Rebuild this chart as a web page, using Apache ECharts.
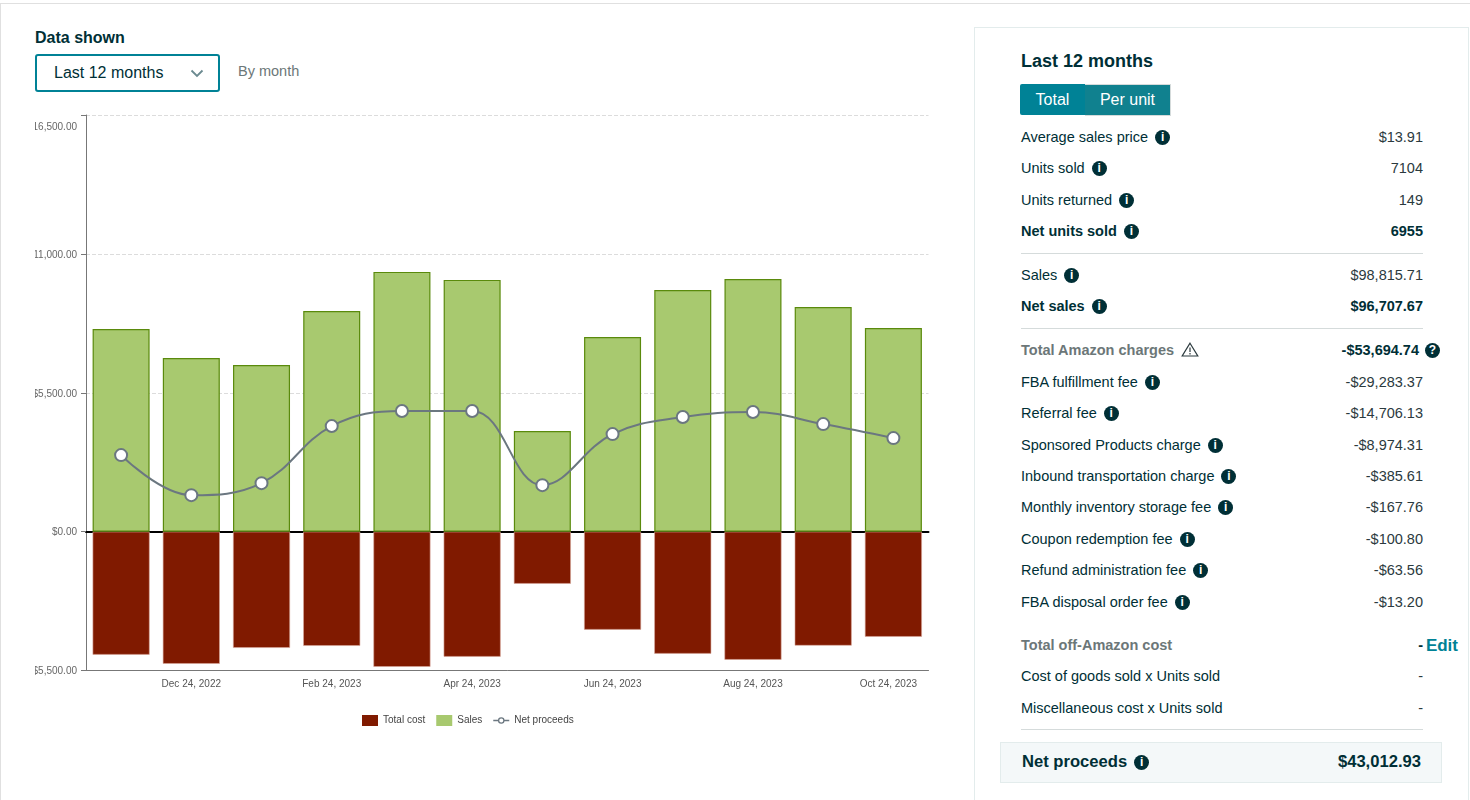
<!DOCTYPE html>
<html><head><meta charset="utf-8">
<script src="https://cdn.jsdelivr.net/npm/echarts@6/dist/echarts.min.js"></script>
<style>
html,body{margin:0;padding:0;background:#fff;width:1470px;height:800px;overflow:hidden;font-family:"Liberation Sans",Arial,sans-serif;color:#002f36}
.abs{position:absolute}
#topline{left:0;top:3px;width:1470px;height:1px;background:#e0e0e0}
#leftline{left:0;top:3px;width:1px;height:797px;background:#e0e0e0}
#ds{left:35px;top:28px;font-size:16px;font-weight:700;line-height:19px}
#dd{left:35px;top:54px;width:181px;height:34px;border:2px solid #008296;border-radius:3px;font-size:16px;line-height:33px;text-indent:17px;color:#002f36}
#bm{left:238px;top:63px;font-size:14.5px;line-height:16px;color:#6c7778}
#chart{left:35px;top:100px;width:900px;height:640px}
#panel{left:974px;top:27px;width:495px;height:773px;border:1px solid #e3ecec;border-bottom:none;box-sizing:border-box}
#title{left:1021px;top:51px;font-size:18px;font-weight:700;line-height:21px}
#b1{left:1020px;top:84px;width:65px;height:31px;background:#008296;border-radius:2px 0 0 2px;color:#fff;font-size:16px;line-height:31px;text-align:center}
#b2{left:1085px;top:84px;width:85px;height:30px;background:#10818f;border:1px solid #d5dbdb;border-left:none;color:#fff;font-size:16px;line-height:30px;text-align:center}
#rows{left:1021px;top:121.9px;width:402px}
.row{height:31.4px;line-height:31.4px;font-size:14.5px;display:flex;justify-content:space-between;white-space:nowrap;position:relative}
.row .v{color:#2b3a3e}
.b,.b .v{font-weight:700;color:#002f36}
.g .l{color:#6c7778;font-weight:700}
.g .v{color:#002f36;font-weight:700}
.g.amz .v{margin-right:4px}
.i{display:inline-block;width:15px;height:15px;border-radius:50%;background:#002f36;color:#fff;font-size:12px;line-height:15px;text-align:center;font-weight:700;margin-left:7px;vertical-align:1px}
.q{position:absolute;right:-17px;top:8px;margin:0}
.hr{height:1px;background:#d5dbdb;margin:6px 0 5.4px}
.hr.h2{margin:5.4px 0 6.4px}
.hr.h3{margin:5px 0 0}
.edit{position:absolute;right:-35px;top:0;color:#008296;font-size:17px;font-weight:700}
#net{left:1000px;top:742px;width:442px;height:41px;box-sizing:border-box;background:#f4f8f9;border:1px solid #e3ecec;display:flex;justify-content:space-between;padding:0 20px 0 21px;line-height:38px;font-size:16.6px;font-weight:700;color:#002f36}
</style></head><body>
<div id="topline" class="abs"></div><div id="leftline" class="abs"></div>
<div id="ds" class="abs">Data shown</div>
<div id="dd" class="abs">Last 12 months<svg class="abs" style="left:153px;top:13px" width="14" height="9" viewBox="0 0 14 9"><path d="M1.5 1.5 L7 7 L12.5 1.5" fill="none" stroke="#6b8a90" stroke-width="1.8"/></svg></div>
<div id="bm" class="abs">By month</div>
<div id="chart" class="abs"></div>
<div id="panel" class="abs"></div>
<div id="title" class="abs">Last 12 months</div>
<div id="b1" class="abs">Total</div><div id="b2" class="abs">Per unit</div>
<div id="rows" class="abs"></div>
<div id="net" class="abs"><span>Net proceeds<span class="i">i</span></span><span>$43,012.93</span></div>
<script>
var categories=["Nov 24, 2022","Dec 24, 2022","Jan 24, 2023","Feb 24, 2023","Mar 24, 2023","Apr 24, 2023","May 24, 2023","Jun 24, 2023","Jul 24, 2023","Aug 24, 2023","Sep 24, 2023","Oct 24, 2023"];
var sales=[8027,6878,6600,8741,10287,9970,3984,7710,9573,10009,8899,8067];
var totalCost=[-4870,-5230,-4600,-4520,-5350,-4950,-2060,-3880,-4830,-5070,-4510,-4160];
var netProceeds=[3033,1447,1923,4182,4777,4777,1843,3865,4539,4737,4261,3706];
var group1=[["Average sales price","$13.91",1],["Units sold","7104",1],["Units returned","149",1],["Net units sold","6955",1,"b"]];
var group2=[["Sales","$98,815.71",1],["Net sales","$96,707.67",1,"b"]];
var group3=[["FBA fulfillment fee","-$29,283.37",1],["Referral fee","-$14,706.13",1],["Sponsored Products charge","-$8,974.31",1],["Inbound transportation charge","-$385.61",1],["Monthly inventory storage fee","-$167.76",1],["Coupon redemption fee","-$100.80",1],["Refund administration fee","-$63.56",1],["FBA disposal order fee","-$13.20",1]];
var group4=[["Cost of goods sold x Units sold","-",0],["Miscellaneous cost x Units sold","-",0]];

function rowHtml(r){return '<div class="row '+(r[3]||'')+'"><span class="l">'+r[0]+(r[2]?'<span class="i">i</span>':'')+'</span><span class="v">'+r[1]+'</span></div>';}
var warn='<svg style="margin-left:7px;vertical-align:-2px" width="18" height="15" viewBox="0 0 18 15"><path d="M9 1.2 L16.8 14 L1.2 14 Z" fill="none" stroke="#2b3a3e" stroke-width="1.2"/><path d="M9 5.5 V10 M9 11 V12.5" stroke="#2b3a3e" stroke-width="1.2"/></svg>';
document.getElementById('rows').innerHTML=
 group1.map(rowHtml).join('')+'<div class="hr"></div>'+
 group2.map(rowHtml).join('')+'<div class="hr h2"></div>'+
 '<div class="row g amz"><span class="l">Total Amazon charges'+warn+'</span><span class="v">-$53,694.74</span><span class="i q">?</span></div>'+
 group3.map(rowHtml).join('')+
 '<div style="height:12px"></div>'+
 '<div class="row g"><span class="l">Total off-Amazon cost</span><span class="v">-</span><span class="edit">Edit</span></div>'+
 group4.map(rowHtml).join('')+'<div class="hr h3"></div>';

var font='"Liberation Sans",Arial,sans-serif';
var chart=echarts.init(document.getElementById('chart'),null,{renderer:'canvas'});
function everyOther(i){return i%2===1;}
var legendLineIcon='path://M0 2.6H4.8V4H0Z M11.2 2.6H16V4H11.2Z M8 0a3.3 3.3 0 1 1 -0.01 0Z M8 1.3a2 2 0 1 0 0.01 0Z';
chart.setOption({
 animation:false,
 textStyle:{fontFamily:font},
 grid:{left:51,top:15,width:842.5,height:555.6,containLabel:false,outerBoundsMode:'none'},
 legend:{left:322,top:610,itemWidth:16,itemHeight:11,itemGap:11,
  textStyle:{fontSize:10,color:'#444',fontFamily:font},
  data:[
   {name:'Total cost',icon:'rect',itemStyle:{borderWidth:0}},
   {name:'Sales',icon:'rect',itemStyle:{borderWidth:0}},
   {name:'Net proceeds',icon:legendLineIcon,itemStyle:{color:'#6b7780',borderWidth:0}}]},
 xAxis:[
  {type:'category',data:categories,position:'bottom',
   axisLine:{onZero:false,lineStyle:{color:'#777',width:1}},
   axisTick:{alignWithLabel:true,interval:everyOther,length:5,lineStyle:{color:'#777'}},
   axisLabel:{interval:everyOther,fontSize:10,color:'#555',margin:9,fontFamily:font,hideOverlap:false,
     formatter:function(v,i){return i===categories.length-1?'{last|'+v+'}':v;},
     rich:{last:{fontSize:10,color:'#555',fontFamily:font,padding:[0,10,0,0]}}},
   splitLine:{show:false}},
  {type:'category',data:categories,position:'bottom',
   axisLine:{onZero:true,lineStyle:{color:'#000',width:2}},
   axisTick:{show:false},axisLabel:{show:false},splitLine:{show:false}}
 ],
 yAxis:{type:'value',min:-5500,max:16500,interval:5500,
  axisLine:{show:true,lineStyle:{color:'#777',width:1}},
  axisTick:{show:true,length:5,lineStyle:{color:'#777'}},
  axisLabel:{fontSize:10,color:'#666',margin:9,fontFamily:font,padding:[2,0,0,0],
    formatter:function(v){var s=(v<0?'-':'')+'$'+Math.abs(v).toLocaleString('en-US',{minimumFractionDigits:2});return v===16500?'{top|'+s+'}':s;},
    rich:{top:{fontSize:10,color:'#666',fontFamily:font,padding:[22,0,0,0]}}},
  splitLine:{show:true,lineStyle:{type:'dashed',color:'#dcdcdc',width:1}}},
 series:[
  {name:'Total cost',type:'bar',stack:'a',barWidth:57,data:totalCost,
   itemStyle:{color:'#801a00',borderColor:'#d9a79a',borderWidth:0.6}},
  {name:'Sales',type:'bar',stack:'a',barWidth:57,data:sales,
   itemStyle:{color:'#a8c96f',borderColor:'#5a8a0c',borderWidth:1.2}},
  {name:'Net proceeds',type:'line',data:netProceeds,smooth:0.4,
   symbol:'circle',symbolSize:12,showSymbol:true,
   lineStyle:{color:'#6b7780',width:2},
   itemStyle:{color:'#fff',borderColor:'#6b7780',borderWidth:2},z:5}
 ]
});
</script>
</body></html>
